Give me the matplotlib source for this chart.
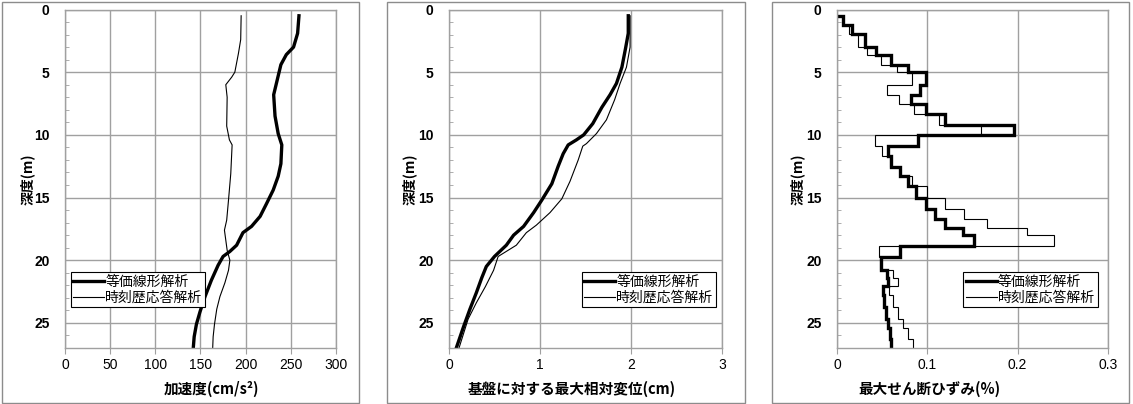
import numpy as np
import matplotlib.pyplot as plt
from matplotlib.patches import Rectangle
from matplotlib.ticker import MultipleLocator

plt.rcParams['font.family'] = ['Liberation Sans', 'Noto Sans CJK JP']
JP = ['Noto Sans CJK JP', 'DejaVu Sans']

# -------------------------------
# Data
# -------------------------------
labels = ['等価線形解析', '時刻歴応答解析']

# acceleration (cm/s2) vs depth (m)
acc_eq_depth = [0.5, 1.9, 3.0, 3.6, 4.4, 5.6, 6.8, 8.5, 9.9, 10.8, 12.3, 13.3, 14.4,
                15.5, 16.5, 17.3, 17.8, 18.8, 19.3, 19.7, 20.4, 21.6, 22.9, 24.1,
                25.1, 26.1, 27.0]
acc_eq = [259, 257.5, 253, 245, 239, 235, 231, 232.5, 236, 240, 239, 236, 230.5,
          223, 216, 206.5, 197, 190, 182.5, 175, 169.5, 162, 155, 149.5,
          145.5, 143, 142]
acc_th_depth = [0.5, 2.4, 3.5, 5.0, 5.4, 6.0, 7.0, 9.3, 10.4, 10.8, 13.1, 15.2,
                16.8, 17.6, 18.4, 19.2, 20.0, 20.8, 21.8, 22.9, 23.9, 25.1, 26.1, 27.0]
acc_th = [195, 194.5, 192, 188, 184.5, 178, 179.5, 179, 182, 185, 183.5, 181,
          179, 176.5, 178, 179.5, 182.5, 181, 177, 171.5, 168, 165.5, 164, 163.5]

# max relative displacement (cm) vs depth (m)
disp_eq_depth = [0.5, 1.9, 3.1, 4.6, 5.9, 6.8, 7.8, 9.1, 10.0, 10.4, 10.8, 11.5,
                 12.5, 13.9, 15.2, 16.2, 17.3, 18.0, 18.8, 19.7, 20.5, 21.4, 22.6,
                 23.9, 25.3, 27.0]
disp_eq = [1.97, 1.97, 1.94, 1.90, 1.84, 1.77, 1.68, 1.58, 1.48, 1.40, 1.31, 1.255,
           1.20, 1.13, 1.02, 0.93, 0.82, 0.71, 0.63, 0.50, 0.41, 0.36, 0.30,
           0.23, 0.16, 0.08]
disp_th_depth = [0.5, 3.0, 4.6, 5.9, 7.2, 8.8, 9.9, 10.7, 10.9, 12.0, 13.7, 15.1,
                 16.2, 17.2, 17.8, 18.8, 19.7, 20.8, 22.1, 23.4, 24.7, 27.0]
disp_th = [1.99, 1.99, 1.95, 1.88, 1.82, 1.73, 1.62, 1.51, 1.47, 1.42, 1.33, 1.24,
           1.11, 0.96, 0.85, 0.74, 0.54, 0.49, 0.40, 0.30, 0.21, 0.11]

# max shear strain (%) per layer, layer boundaries (m)
layer_edges = [0.5, 1.2, 1.95, 3.0, 3.6, 4.4, 5.0, 6.0, 6.8, 7.55, 8.3, 9.2, 10.0,
               10.9, 11.7, 12.55, 13.3, 14.1, 15.0, 15.9, 16.7, 17.4, 17.95, 18.85,
               19.75, 20.75, 21.4, 22.05, 22.8, 23.7, 24.65, 25.4, 26.25, 27.2]
strain_eq = [0.0067, 0.0167, 0.031, 0.043, 0.060, 0.079, 0.0985, 0.092, 0.0815,
             0.0985, 0.120, 0.1955, 0.090, 0.056, 0.060, 0.070, 0.079, 0.088,
             0.0985, 0.1085, 0.120, 0.140, 0.152, 0.0696, 0.049, 0.055, 0.057,
             0.051, 0.052, 0.054, 0.0567, 0.0585, 0.060]
strain_th = [0.0067, 0.0133, 0.0233, 0.0337, 0.0485, 0.066, 0.0833, 0.0548, 0.0685,
             0.085, 0.113, 0.159, 0.0426, 0.050, 0.059, 0.070, 0.083, 0.100,
             0.120, 0.141, 0.166, 0.210, 0.240, 0.0467, 0.048, 0.062, 0.068,
             0.058, 0.062, 0.068, 0.073, 0.079, 0.0844]

# -------------------------------
# Figure layout
# -------------------------------
W, H = 1133, 404
fig = plt.figure(figsize=(W / 100, H / 100), dpi=100)

GRID = '#a0a0a0'
BORDER = '#8c8c8c'


def px_axes(x0, x1, y0, y1):
    return fig.add_axes([x0 / W, 1 - y1 / H, (x1 - x0) / W, (y1 - y0) / H])


def style(ax, xmax, xstep, fmt):
    ax.set_xlim(0, xmax)
    ax.set_ylim(27, 0)
    ax.xaxis.set_major_locator(MultipleLocator(xstep))
    ax.yaxis.set_major_locator(MultipleLocator(5))
    ax.yaxis.set_minor_locator(MultipleLocator(1))
    ax.xaxis.set_major_formatter(fmt)
    ax.grid(True, which='major', color=GRID, linewidth=1.0)
    ax.set_axisbelow(True)
    for s in ax.spines.values():
        s.set_color(GRID)
        s.set_linewidth(1.0)
    ax.tick_params(axis='x', direction='out', length=4, color=GRID,
                   labelsize=10, pad=3)
    ax.tick_params(axis='y', which='major', length=0, pad=11, labelsize=10)
    ax.tick_params(axis='y', which='minor', direction='in', length=3, color=GRID)
    for lab in ax.get_yticklabels():
        lab.set_fontweight('bold')


def legend(ax, x0, y0, x1, y1):
    # place legend box by pixel coordinates
    bb = (x0 / W, 1 - y1 / H, (x1 - x0) / W, (y1 - y0) / H)
    leg = ax.legend(labels, loc='center', bbox_to_anchor=bb,
                    bbox_transform=fig.transFigure, fancybox=False,
                    edgecolor='black', framealpha=1, borderpad=0.2,
                    handlelength=2.2, handletextpad=0.1, labelspacing=0.15,
                    borderaxespad=0, prop={'family': JP, 'size': 10})
    leg.get_frame().set_linewidth(0.8)


panels = [(65, 336), (449, 722), (837, 1108)]
borders = [(2, 359), (387, 745), (772, 1129)]
for bx0, bx1 in borders:
    fig.add_artist(Rectangle((bx0 / W, 1 / H), (bx1 - bx0) / W, 401 / H,
                             transform=fig.transFigure, fill=False,
                             edgecolor=BORDER, linewidth=1.0))

# panel 1: acceleration
ax1 = px_axes(panels[0][0], panels[0][1], 9.5, 348)
ax1.plot(acc_eq, acc_eq_depth, color='black', linewidth=2.4)
ax1.plot(acc_th, acc_th_depth, color='black', linewidth=0.8)
style(ax1, 300, 50, '{x:.0f}')
legend(ax1, 72, 269, 204, 310)

# panel 2: displacement
ax2 = px_axes(panels[1][0], panels[1][1], 9.5, 348)
ax2.plot(disp_eq, disp_eq_depth, color='black', linewidth=2.4)
ax2.plot(disp_th, disp_th_depth, color='black', linewidth=0.8)
style(ax2, 3, 1, '{x:.0f}')
legend(ax2, 582, 269, 716, 310)

# panel 3: shear strain (layer steps)
ax3 = px_axes(panels[2][0], panels[2][1], 9.5, 348)
ax3.stairs(strain_eq, layer_edges, orientation='horizontal', baseline=0,
           color='black', linewidth=2.4)
ax3.stairs(strain_th, layer_edges, orientation='horizontal', baseline=0,
           color='black', linewidth=0.8)
style(ax3, 0.3, 0.1, lambda v, p: '0' if v == 0 else f'{v:.1f}')
legend(ax3, 960, 269, 1101, 310)

# axis titles
xlabels = [('加速度(cm/s²)', 211), ('基盤に対する最大相対変位(cm)', 572),
           ('最大せん断ひずみ(%)', 929)]
for txt, xc in xlabels:
    fig.text(xc / W, 1 - 389 / H, txt, ha='center', va='center',
             fontsize=10.5, fontweight='bold', family=JP)
for xc in (27, 409, 797):
    fig.text(xc / W, 1 - 179 / H, '深度(m)', ha='center', va='center',
             rotation=90, fontsize=10, fontweight='bold', family=JP)

plt.savefig('out.png', dpi=100)
